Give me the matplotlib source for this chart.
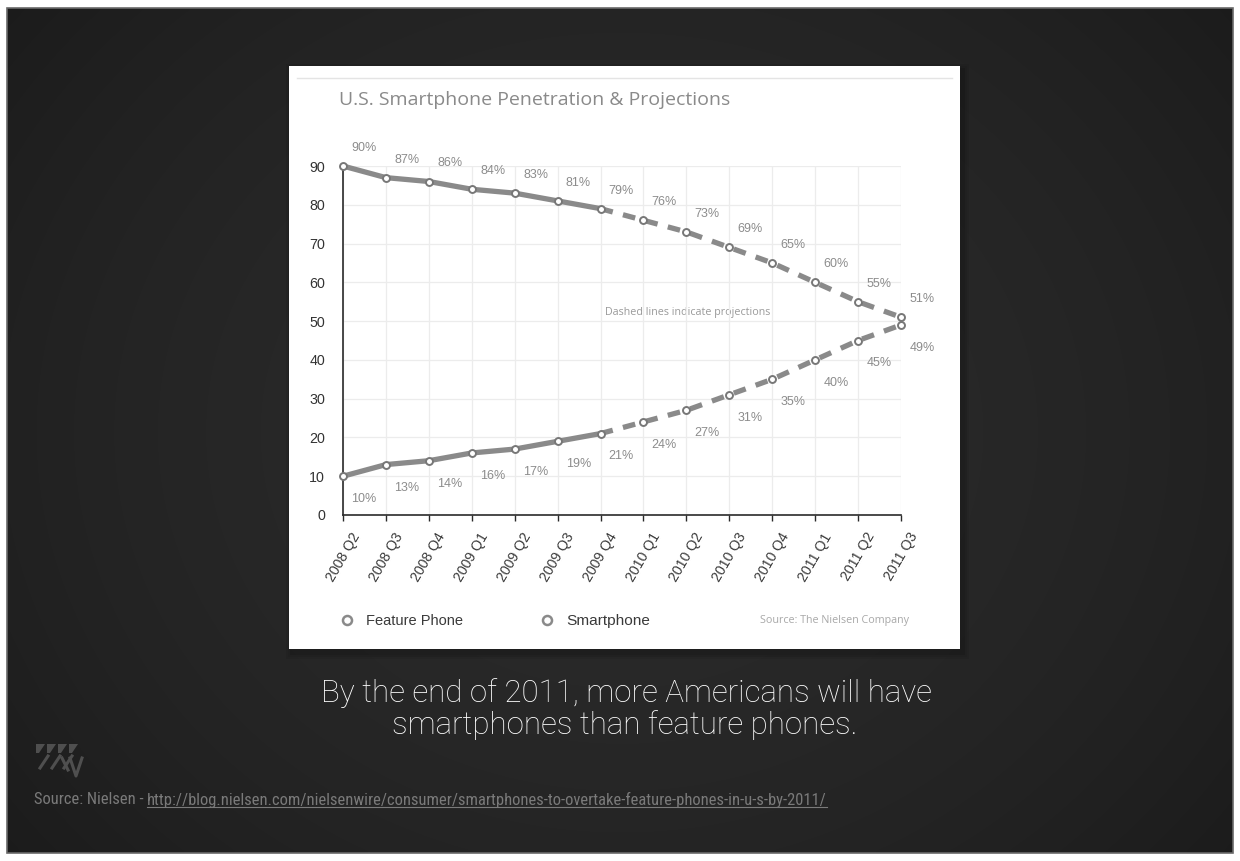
import numpy as np
import matplotlib
matplotlib.use("Agg")
import matplotlib.pyplot as plt
from matplotlib import font_manager
from matplotlib.patches import Rectangle, Polygon

# ---------------- data ----------------
quarters = ["2008 Q2", "2008 Q3", "2008 Q4", "2009 Q1", "2009 Q2", "2009 Q3", "2009 Q4",
            "2010 Q1", "2010 Q2", "2010 Q3", "2010 Q4", "2011 Q1", "2011 Q2", "2011 Q3"]
feature_phone = [90, 87, 86, 84, 83, 81, 79, 76, 73, 69, 65, 60, 55, 51]
smartphone = [10, 13, 14, 16, 17, 19, 21, 24, 27, 31, 35, 40, 45, 49]
last_actual = "2009 Q4"
y_ticks = [0, 10, 20, 30, 40, 50, 60, 70, 80, 90]

title = "U.S. Smartphone Penetration & Projections"
note = "Dashed lines indicate projections"
legend_labels = ["Feature Phone", "Smartphone"]
chart_source = "Source: The Nielsen Company"
caption_lines = ["By the end of 2011, more Americans will have",
                 "smartphones than feature phones."]
slide_source = "Source: Nielsen - "
slide_url = "http://blog.nielsen.com/nielsenwire/consumer/smartphones-to-overtake-feature-phones-in-u-s-by-2011/"

# ---------------- helpers ----------------
W, H = 1240, 861


def has_font(name):
    try:
        font_manager.findfont(font_manager.FontProperties(family=name), fallback_to_default=False)
        return True
    except Exception:
        return False


def pick(names):
    for n in names:
        if has_font(n):
            return n
    return "DejaVu Sans"


sans = pick(["Liberation Sans", "Arial", "DejaVu Sans"])
humanist = pick(["Open Sans", "Noto Sans", "DejaVu Sans"])
narrow = pick(["Liberation Sans Narrow", "Roboto Condensed", "Open Sans"])
light_font = pick(["Roboto", "Liberation Sans"])

fig = plt.figure(figsize=(W / 100, H / 100), dpi=100)
fig.patch.set_facecolor("white")

# background axes in pixel coordinates
bg = fig.add_axes([0, 0, 1, 1])
bg.set_xlim(0, W)
bg.set_ylim(H, 0)
bg.axis("off")
bg.set_zorder(0)

# dark slide with soft vignette
yy, xx = np.mgrid[0:200, 0:300]
cx, cy = 150, 100
r = np.sqrt(((xx - cx) / 180.0) ** 2 + ((yy - cy) / 150.0) ** 2)
val = 0.165 - 0.05 * np.clip(r, 0, 1.3) ** 2
img = np.dstack([val, val, val])
bg.imshow(img, extent=[7, W - 7, H - 8, 8], aspect="auto", zorder=1, interpolation="bilinear")
bg.add_patch(Rectangle((7, 8), W - 14, H - 16, fill=False, ec="#6a6a6a", lw=1.2, zorder=2))

# card with subtle shadow
for i, a in enumerate([0.10, 0.08, 0.06]):
    d = 2 + i * 2
    bg.add_patch(Rectangle((289 - d + 3, 66 - d + 4), 671 + 2 * d, 583 + 2 * d,
                           fc="black", ec="none", alpha=a, zorder=3))
bg.add_patch(Rectangle((289, 66), 671, 583, fc="white", ec="none", zorder=4))
bg.plot([297, 952], [78, 78], color="#e4e4e4", lw=1, zorder=5)

renderer = fig.canvas.get_renderer()


def fit(t, width_px):
    for _ in range(3):
        w = t.get_window_extent(renderer).width
        t.set_fontsize(t.get_fontsize() * width_px / w)
    return t


# title
t = bg.text(339, 100, title, color="#8a8a8a", fontsize=15, family=humanist,
            ha="left", va="center", zorder=6)
fit(t, 391)

# ---------------- chart axes ----------------
x0, x1, yb, yt = 343, 901, 515, 166
ax = fig.add_axes([x0 / W, 1 - yb / H, (x1 - x0) / W, (yb - yt) / H])
ax.set_zorder(5)
ax.patch.set_alpha(0)
x = np.arange(len(quarters))
k = quarters.index(last_actual)

ax.set_xlim(0, len(quarters) - 1)
ax.set_ylim(0, 90)
ax.set_yticks(y_ticks)
ax.set_xticks(x)
ax.grid(True, color="#ececec", lw=0.9)
ax.set_axisbelow(True)
for s in ["top", "right"]:
    ax.spines[s].set_visible(False)
for s in ["left", "bottom"]:
    ax.spines[s].set_color("#2a2a2a")
    ax.spines[s].set_linewidth(1.2)
ax.tick_params(axis="y", length=0, pad=13, labelsize=10.3, labelcolor="#333333")
ax.tick_params(axis="x", length=4, width=1, color="#2a2a2a", direction="out", pad=7)
ax.set_yticklabels([str(v) for v in y_ticks], family=sans)
ax.set_xticklabels(quarters, rotation=60, ha="center", va="top", fontsize=10.2,
                   color="#3a3a3a", family=sans)

line_col = "#8a8a8a"
for series in (feature_phone, smartphone):
    s = np.array(series, dtype=float)
    ax.plot(x[:k + 1], s[:k + 1], color=line_col, lw=3.8, solid_capstyle="round",
            zorder=3, clip_on=False)
    ax.plot(x[k:], s[k:], color=line_col, lw=3.8, ls=(0, (2.4, 2.0)),
            dash_capstyle="butt", zorder=3, clip_on=False)
    ax.plot(x, s, ls="none", marker="o", ms=5, mfc="white", mec="#777777", mew=1.4,
            zorder=4, clip_on=False)

for xi, v in zip(x, feature_phone):
    ax.annotate(f"{v}%", (xi, v), xytext=(15, 13), textcoords="offset points",
                ha="center", va="center", fontsize=9, color="#8c8c8c", family=sans)
for xi, v in zip(x, smartphone):
    ax.annotate(f"{v}%", (xi, v), xytext=(15, -16.5), textcoords="offset points",
                ha="center", va="center", fontsize=9, color="#8c8c8c", family=sans)

# note
t = bg.text(605, 313, note, color="#9a9a9a", fontsize=7.5, family=humanist,
            ha="left", va="center", zorder=6)
fit(t, 165)

# legend
for mx, tx, lab in [(347, 366, legend_labels[0]), (547, 566, legend_labels[1])]:
    bg.plot([mx], [620], marker="o", ms=6.5, mfc="white", mec="#8a8a8a", mew=1.8, zorder=6)
    t = bg.text(tx, 621, lab, color="#3a3a3a", fontsize=10.5, family=sans,
                ha="left", va="center", zorder=6)
fit(bg.texts[-2], 97)
fit(bg.texts[-1], 83)
t = bg.text(909, 620, chart_source, color="#a8a8a8", fontsize=7.5, family=humanist,
            ha="right", va="center", zorder=6)
fit(t, 149)

# caption
cap_kw = dict(color="white", family=light_font, ha="center", va="center", zorder=6)
if light_font == "Roboto":
    cap_kw["fontweight"] = "light"
t1 = bg.text(626, 693, caption_lines[0], fontsize=20, **cap_kw)
fit(t1, 612)
t2 = bg.text(625, 725, caption_lines[1], fontsize=t1.get_fontsize(), **cap_kw)

# logo (decorative strokes)
logo_col = "#4f4f4f"
for i in range(4):
    bx = 36 + i * 11
    bg.add_patch(Polygon([[bx, 744], [bx + 9, 744], [bx + 3, 753], [bx, 753]],
                         closed=True, fc=logo_col, ec="none", zorder=6))
for i in range(3):
    bx = 40 + i * 12
    bg.plot([bx, bx + 8], [768, 756], color=logo_col, lw=2.2, zorder=6)
bg.plot([70, 76, 82], [758, 776, 758], color=logo_col, lw=2.2, zorder=6)
bg.plot([62, 68], [758, 770], color=logo_col, lw=2.2, zorder=6)

# slide source line
s1 = bg.text(34, 800, slide_source, color="#7a7a7a", fontsize=8, family=narrow,
             ha="left", va="center", zorder=6)
s2 = bg.text(0, 800, slide_url, color="#7a7a7a", fontsize=8, family=narrow,
             ha="left", va="center", zorder=6)
for _ in range(3):
    w1 = s1.get_window_extent(renderer).width
    w2 = s2.get_window_extent(renderer).width
    sc = (818 - 34) / (w1 + w2)
    s1.set_fontsize(s1.get_fontsize() * sc)
    s2.set_fontsize(s2.get_fontsize() * sc)
w1 = s1.get_window_extent(renderer).width
s2.set_x(34 + w1)
w2 = s2.get_window_extent(renderer).width
bg.plot([34 + w1, 34 + w1 + w2], [807, 807], color="#7a7a7a", lw=0.8, zorder=6)

fig.savefig("out.png", dpi=100, facecolor=fig.get_facecolor())
